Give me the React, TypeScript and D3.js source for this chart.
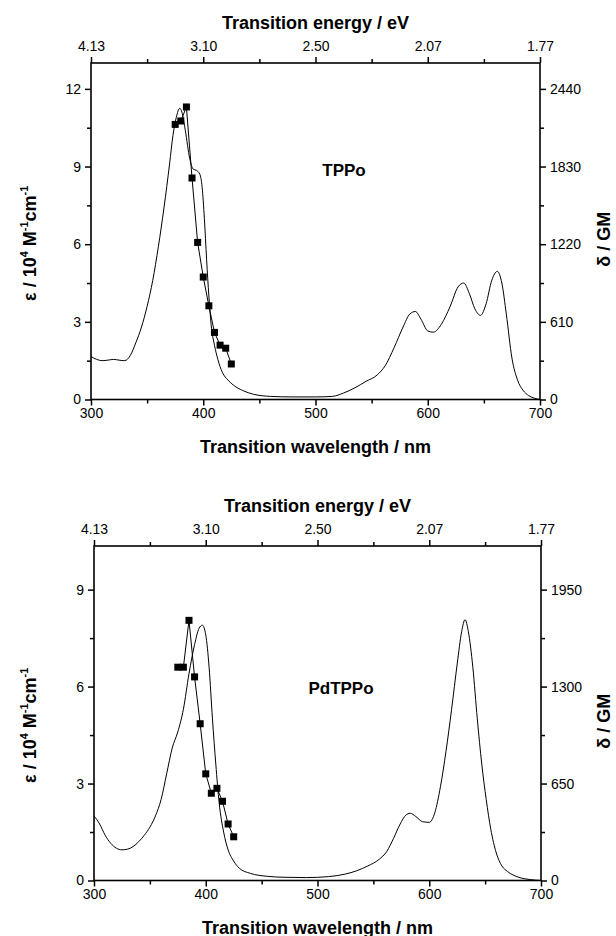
import React, { useEffect, useRef } from "react";
import * as d3 from "d3";

const wlMajor = [300, 400, 500, 600, 700];
const wlMinor = [350, 450, 550, 650];
const energyLabels = ["4.13", "3.10", "2.50", "2.07", "1.77"];

// TPPo one-photon absorption (nm, 10^4 M^-1 cm^-1)
const tppoWl = [300, 305, 310, 315, 320, 325, 330, 335, 340, 345, 350, 355, 360, 365, 370, 373, 376, 379, 381, 384, 388, 391, 394, 397, 399, 401, 403, 405, 407, 410, 413, 417, 422, 427, 435, 445, 460, 480, 500, 515, 525, 535, 545, 555, 562, 570, 578, 584, 589, 594, 600, 605, 612, 620, 627, 632, 637, 642, 647, 652, 657, 662, 666, 670, 675, 680, 685, 690, 695, 700];
const tppoEps = [1.66, 1.55, 1.5, 1.52, 1.55, 1.52, 1.5, 1.7, 2.2, 2.8, 3.6, 4.6, 5.9, 7.4, 9.1, 10.2, 10.9, 11.25, 11.1, 10.4, 9.3, 8.9, 8.85, 8.7, 8.2, 7.0, 5.4, 4.0, 2.9, 2.1, 1.55, 1.05, 0.75, 0.55, 0.35, 0.2, 0.12, 0.1, 0.1, 0.12, 0.25, 0.45, 0.7, 0.95, 1.3, 2.0, 2.8, 3.3, 3.4, 3.1, 2.65, 2.6, 2.9, 3.6, 4.35, 4.5, 4.1, 3.5, 3.25, 3.7, 4.6, 4.95, 4.5, 3.3, 1.6, 0.75, 0.35, 0.15, 0.05, 0.0];
// TPPo two-photon cross-section (nm, GM)
const tppo2paWl = [375, 380, 385, 390, 395, 400, 405, 410, 415, 420, 425];
const tppo2paGM = [2161, 2188, 2298, 1740, 1234, 962, 736, 527, 427, 403, 279];

// PdTPPo one-photon absorption
const pdWl = [300, 305, 310, 315, 320, 325, 330, 335, 340, 345, 350, 355, 360, 365, 370, 375, 380, 385, 390, 394, 397, 400, 403, 406, 409, 412, 416, 420, 425, 430, 440, 455, 470, 490, 510, 525, 535, 545, 555, 562, 568, 574, 579, 583, 588, 594, 600, 605, 610, 615, 620, 625, 629, 632, 635, 639, 643, 647, 651, 655, 660, 665, 670, 680, 690, 700];
const pdEps = [2.0, 1.75, 1.4, 1.15, 1.0, 0.95, 0.97, 1.05, 1.2, 1.4, 1.65, 2.0, 2.5, 3.3, 4.1, 4.6, 5.3, 6.4, 7.3, 7.8, 7.9, 7.6, 6.6, 5.0, 3.6, 2.4, 1.5, 0.95, 0.6, 0.38, 0.22, 0.13, 0.1, 0.09, 0.12, 0.2, 0.3, 0.45, 0.65, 0.9, 1.3, 1.75, 2.02, 2.08, 1.98, 1.82, 1.8, 2.1, 2.9, 4.0, 5.3, 6.7, 7.7, 8.07, 7.7, 6.6, 5.0, 3.6, 2.5, 1.6, 0.85, 0.45, 0.28, 0.1, 0.03, 0.0];
const pd2paWl = [375, 380, 385, 390, 395, 400, 405, 410, 415, 420, 425];
const pd2paGM = [1430, 1430, 1744, 1365, 1051, 715, 585, 618, 531, 379, 293];

const tppoEpsTicks = [0, 3, 6, 9, 12];
const tppoGMTicks = [0, 610, 1220, 1830, 2440];
const pdEpsTicks = [0, 3, 6, 9];
const pdGMTicks = [0, 650, 1300, 1950];

const FONT = "'Liberation Sans', Arial, sans-serif";

type Panel = {
  left: number; right: number; top: number; bottom: number;
  yMax: number; gmPerUnit: number;
  epsTicks: number[]; gmTicks: number[];
  wl: number[]; eps: number[]; wl2: number[]; gm2: number[];
  label: string; labelX: number; labelY: number;
};

function drawPanel(svg: d3.Selection<SVGSVGElement, unknown, null, undefined>, p: Panel) {
  const g = svg.append("g");
  const x = d3.scaleLinear().domain([300, 700]).range([p.left, p.right]);
  const y = d3.scaleLinear().domain([0, p.yMax]).range([p.bottom, p.top]);
  const yGM = d3.scaleLinear().domain([0, p.yMax * p.gmPerUnit]).range([p.bottom, p.top]);

  const styleAxis = (sel: any) => {
    sel.select(".domain").remove();
    sel.selectAll(".tick line").attr("stroke", "#000").attr("stroke-width", 1.5);
    sel.selectAll(".tick text").attr("font-family", FONT).attr("font-size", 14).attr("fill", "#000");
  };

  // bottom axis
  g.append("g").attr("transform", `translate(0,${p.bottom})`)
    .call(d3.axisBottom(x).tickValues(wlMajor).tickSize(6).tickPadding(3).tickFormat(d3.format("d")) as any)
    .call(styleAxis);
  g.append("g").attr("transform", `translate(0,${p.bottom})`)
    .call(d3.axisBottom(x).tickValues(wlMinor).tickSize(4).tickFormat(() => "") as any)
    .call(styleAxis);
  // top axis (energy)
  g.append("g").attr("transform", `translate(0,${p.top})`)
    .call(d3.axisTop(x).tickValues(wlMajor).tickSize(6).tickPadding(6).tickFormat((d, i) => energyLabels[i]) as any)
    .call(styleAxis);
  g.append("g").attr("transform", `translate(0,${p.top})`)
    .call(d3.axisTop(x).tickValues(wlMinor).tickSize(4).tickFormat(() => "") as any)
    .call(styleAxis);
  // left axis
  const epsMinor = d3.range(1.5, p.yMax, 3);
  g.append("g").attr("transform", `translate(${p.left},0)`)
    .call(d3.axisLeft(y).tickValues(p.epsTicks).tickSize(6).tickPadding(4).tickFormat(d3.format("d")) as any)
    .call(styleAxis);
  g.append("g").attr("transform", `translate(${p.left},0)`)
    .call(d3.axisLeft(y).tickValues(epsMinor).tickSize(4).tickFormat(() => "") as any)
    .call(styleAxis);
  // right axis (GM)
  const gmStep = p.gmTicks[1] / 2;
  const gmMinor = d3.range(gmStep, p.yMax * p.gmPerUnit, gmStep * 2);
  g.append("g").attr("transform", `translate(${p.right},0)`)
    .call(d3.axisRight(yGM).tickValues(p.gmTicks).tickSize(6).tickPadding(4).tickFormat(d3.format("d")) as any)
    .call(styleAxis);
  g.append("g").attr("transform", `translate(${p.right},0)`)
    .call(d3.axisRight(yGM).tickValues(gmMinor).tickSize(4).tickFormat(() => "") as any)
    .call(styleAxis);

  // frame
  g.append("rect").attr("x", p.left).attr("y", p.top)
    .attr("width", p.right - p.left).attr("height", p.bottom - p.top)
    .attr("fill", "none").attr("stroke", "#000").attr("stroke-width", 1.6);

  // absorption curve
  const line = d3.line<number>()
    .x((_, i) => x(p.wl[i]))
    .y((d) => y(d))
    .curve(d3.curveMonotoneX);
  g.append("path").attr("d", line(p.eps) as string)
    .attr("fill", "none").attr("stroke", "#000").attr("stroke-width", 1);

  // 2PA data
  const line2 = d3.line<number>()
    .x((_, i) => x(p.wl2[i]))
    .y((d) => yGM(d));
  g.append("path").attr("d", line2(p.gm2) as string)
    .attr("fill", "none").attr("stroke", "#000").attr("stroke-width", 1);
  const s = 7;
  g.selectAll("rect.pt").data(p.gm2).enter().append("rect")
    .attr("class", "pt")
    .attr("x", (_, i) => x(p.wl2[i]) - s / 2)
    .attr("y", (d) => yGM(d) - s / 2)
    .attr("width", s).attr("height", s).attr("fill", "#000");

  // compound label
  g.append("text").attr("x", p.labelX).attr("y", p.labelY)
    .attr("text-anchor", "middle").attr("dominant-baseline", "central")
    .attr("font-family", FONT).attr("font-weight", "bold").attr("font-size", 17)
    .text(p.label);

  // axis titles
  const cx = (p.left + p.right) / 2;
  g.append("text").attr("x", cx).attr("y", p.bottom + 53)
    .attr("text-anchor", "middle").attr("font-family", FONT).attr("font-weight", "bold").attr("font-size", 18)
    .text("Transition wavelength / nm");
  g.append("text").attr("x", cx).attr("y", p.top - 34)
    .attr("text-anchor", "middle").attr("font-family", FONT).attr("font-weight", "bold").attr("font-size", 18)
    .text("Transition energy / eV");

  const cy = (p.top + p.bottom) / 2;
  const yt = g.append("text")
    .attr("transform", `translate(36,${cy + 12}) rotate(-90)`)
    .attr("text-anchor", "middle").attr("font-family", FONT).attr("font-weight", "bold").attr("font-size", 18);
  yt.append("tspan").text("ε / 10");
  yt.append("tspan").attr("font-size", 11).attr("dy", -8).text("4");
  yt.append("tspan").attr("dy", 8).text(" M");
  yt.append("tspan").attr("font-size", 11).attr("dy", -8).text("-1");
  yt.append("tspan").attr("dy", 8).text("cm");
  yt.append("tspan").attr("font-size", 11).attr("dy", -8).text("-1");

  g.append("text")
    .attr("transform", `translate(610,${cy + 8}) rotate(-90)`)
    .attr("text-anchor", "middle").attr("font-family", FONT).attr("font-weight", "bold").attr("font-size", 18)
    .text("δ / GM");
}

export default function App() {
  const ref = useRef<SVGSVGElement>(null);
  useEffect(() => {
    const svg = d3.select(ref.current as SVGSVGElement);
    svg.selectAll("*").remove();
    svg.append("rect").attr("width", 616).attr("height", 936).attr("fill", "#fff");
    drawPanel(svg, {
      left: 91, right: 540, top: 63, bottom: 399.5,
      yMax: 13, gmPerUnit: 610 / 3,
      epsTicks: tppoEpsTicks, gmTicks: tppoGMTicks,
      wl: tppoWl, eps: tppoEps, wl2: tppo2paWl, gm2: tppo2paGM,
      label: "TPPo", labelX: 344, labelY: 170,
    });
    drawPanel(svg, {
      left: 94, right: 541, top: 546, bottom: 880.5,
      yMax: 10.35, gmPerUnit: 650 / 3,
      epsTicks: pdEpsTicks, gmTicks: pdGMTicks,
      wl: pdWl, eps: pdEps, wl2: pd2paWl, gm2: pd2paGM,
      label: "PdTPPo", labelX: 341, labelY: 688,
    });
  }, []);
  return (
    <svg ref={ref} width={616} height={936}
      style={{ position: "absolute", left: 0, top: 0, display: "block" }} />
  );
}
